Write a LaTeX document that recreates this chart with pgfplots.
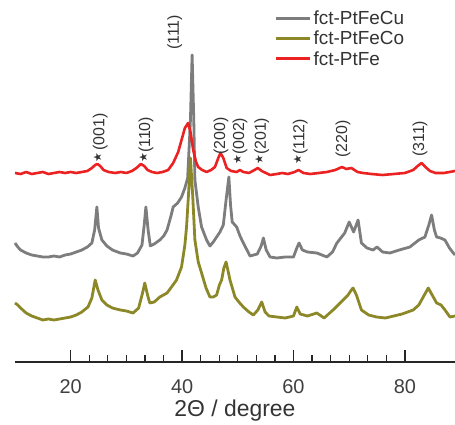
\documentclass[border=0pt]{standalone}
\usepackage{pgfplots}
\pgfplotsset{compat=1.18}
\usepackage{fontspec}
\setmainfont{Liberation Sans}
\newfontfamily\djv{DejaVu Sans}
\definecolor{cgray}{RGB}{125,125,125}
\definecolor{colive}{RGB}{140,136,40}
\definecolor{cred}{RGB}{236,34,34}
\newcommand{\st}{\raisebox{3bp}{\djv\fontsize{11}{11}\selectfont ★}}
\begin{document}
\begin{tikzpicture}
\useasboundingbox (-15bp,-63bp) rectangle (440bp,362bp);
\begin{axis}[
  at={(0,0)}, anchor=south west,
  scale only axis, width=440bp, height=362bp,
  xmin=10, xmax=89, ymin=63, ymax=425,
  axis x line=bottom, axis y line=none,
  x axis line style={-, line width=1.3bp, black!85},
  xtick={20,40,60,80}, minor x tick num=5,
  tick align=inside,
  major tick length=12bp, minor tick length=7bp,
  every tick/.style={black!85, line width=1.3bp},
  /pgf/number format/assume math mode=true,
  ticklabel style={font=\fontsize{20}{22}\selectfont, text=black!75},
  xticklabel style={yshift=-14bp},
  xlabel={2Θ / degree},
  xlabel style={font=\fontsize{23}{26}\selectfont, text=black!80,
    at={(axis description cs:0.5,0)}, anchor=base, yshift=-54bp},
  clip=false,
  legend style={at={(rel axis cs:0.59,0.975)}, anchor=north west, draw=none, fill=none,
    font=\fontsize{19}{22}\selectfont, text=black!80, row sep=1bp,
    inner sep=0pt, outer sep=0pt},
  legend cell align=left,
  legend image code/.code={\draw[line width=3bp,#1] (0bp,0bp) -- (34bp,0bp);},
]
\addplot[cgray, line width=2.8bp, line join=round] coordinates {
(10,182)(10.5,178)(11,175)(12,172)(13,170)(14,169)(15,168)(16,168)(17,169)(18,168)(19,170)(20,171)(21,173)(22,175)(23,178)(23.8,182)(24.3,195)(24.7,218)(25.0,197)(25.6,185)(26.5,179)(27.5,175)(28.9,172)(30,171)(31.2,169)(32,172)(32.8,180)(33.2,200)(33.5,218)(33.9,195)(34.3,179)(35.0,181)(35.5,183)(36.0,185)(36.7,189)(37.3,195)(38.0,209)(38.4,218)(39.2,222)(39.9,228)(40.5,237)(41.0,247)(41.5,305)(41.8,370)(42.1,305)(42.3,245)(42.9,218)(43.5,198)(44.4,185)(45.0,179)(45.6,183)(46.2,188)(46.8,193)(47.4,200)(47.9,225)(48.4,248)(48.7,220)(49.0,203)(49.8,198)(50.4,189)(51.0,182)(52.2,169)(53.5,171)(54.2,179)(54.6,187)(55.1,175)(55.8,168)(57,167)(58.5,168)(60.0,168)(60.6,177)(61.0,182)(61.6,175)(62.5,173)(64.2,172)(66.0,168)(67.0,173)(67.8,182)(68.5,187)(69.2,192)(70.0,203)(70.8,193)(71.6,205)(72.2,182)(73.2,177)(74.3,175)(75.0,178)(76.0,173)(77.3,172)(79.0,175)(80.9,178)(82.5,185)(83.6,188)(84.3,200)(84.8,210)(85.3,195)(85.7,188)(86.4,187)(87.2,185)(88.0,177)(88.7,172)(89,170)
};
\addlegendentry{fct-PtFeCu}
\addplot[colive, line width=2.8bp, line join=round] coordinates {
(10,122)(10.5,120)(11,117)(12,112)(13,109)(14,107)(15,105)(16,106)(17,105)(18,106)(19,107)(20,108)(21,110)(22,113)(23.1,118)(23.8,127)(24.4,145)(24.9,135)(25.6,125)(26.5,120)(27.5,117)(28.9,115)(30,114)(31.2,112)(32.2,117)(32.9,132)(33.3,142)(33.8,130)(34.2,122)(35.0,123)(36.0,128)(37.3,132)(38.1,138)(39.0,145)(39.9,158)(40.5,180)(40.8,198)(41.2,235)(41.5,267)(41.9,230)(42.3,185)(42.9,163)(43.5,152)(44.3,137)(45.0,128)(45.6,128)(46.2,130)(46.7,140)(47.1,145)(47.5,157)(47.9,163)(48.3,153)(48.6,145)(49.5,128)(50.2,123)(51.0,118)(52.0,113)(52.8,110)(53.6,115)(54.3,123)(54.9,113)(55.6,109)(57,108)(58.5,107)(60.0,109)(60.6,118)(61.2,111)(62.5,109)(64.2,112)(65.5,107)(67.1,115)(68.0,120)(68.9,125)(69.8,130)(70.4,135)(70.7,137)(71.3,130)(72.2,115)(73.5,110)(74.9,108)(76.5,107)(78,109)(79.5,111)(81.5,115)(82.5,120)(83.4,129)(84.2,137)(84.9,130)(85.7,122)(86.5,120)(87.2,115)(88.1,108)(89,109)
};
\addlegendentry{fct-PtFeCo}
\addplot[cred, line width=2.6bp, line join=round] coordinates {
(10,252)(11,251)(12,253)(13,251)(14,252)(15,253)(16,251)(17,252)(18,253)(19,252)(20,253)(21,252)(22,253)(23,254)(23.8,257)(24.4,260)(24.8,261)(25.3,259)(25.9,255)(26.8,253)(28,252)(29,253)(30,252)(31,254)(31.8,257)(32.6,261)(33.2,259)(33.8,255)(34.6,253)(35.5,252)(36.5,253)(37.5,255)(38.4,262)(39.3,273)(39.9,285)(40.5,297)(41.1,302)(41.5,293)(42.0,275)(42.5,263)(42.9,258)(43.6,255)(44.4,253)(45.2,255)(45.9,258)(46.5,267)(46.9,272)(47.4,267)(48.0,257)(48.8,254)(49.8,253)(50.4,255)(51.0,253)(52.0,252)(53.0,255)(53.6,257)(54.3,254)(55.8,250)(57,251)(58,252)(59,251)(60.2,253)(60.9,255)(61.8,252)(63,251)(64.5,252)(66,253)(67.5,255)(68.7,258)(69.5,256)(70.4,257)(71.5,253)(72.5,252)(74,251)(76,250)(78,251)(80,252)(81.5,255)(82.3,259)(83.0,262)(83.7,258)(84.5,254)(85.5,252)(87,252)(88,253)(89,254)
};
\addlegendentry{fct-PtFe}
\begin{scope}[every node/.style={rotate=90, anchor=west, font=\fontsize{16}{18}\selectfont, text=black!80, inner sep=0pt}]
\node at (axis cs:25.3,262) {\st\,(001)};
\node at (axis cs:33.5,262) {\st(110)};
\node at (axis cs:38.7,375) {(111)};
\node at (axis cs:47.0,270) {(200)};
\node at (axis cs:50.4,260) {\st(002)};
\node at (axis cs:54.3,260) {\st(201)};
\node at (axis cs:61.2,260) {\st(112)};
\node at (axis cs:68.9,267) {(220)};
\node at (axis cs:82.7,268) {(311)};
\end{scope}
\end{axis}
\end{tikzpicture}
\end{document}
